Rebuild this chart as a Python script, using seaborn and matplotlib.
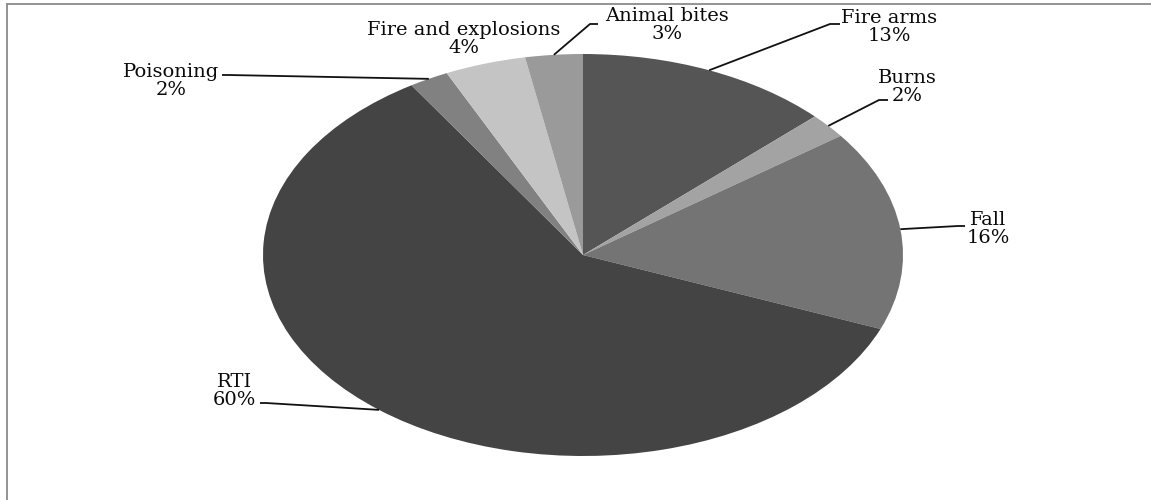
import matplotlib
matplotlib.use("Agg")
import matplotlib.pyplot as plt
import numpy as np
import seaborn as sns
from matplotlib.lines import Line2D

# data, clockwise from 12 o'clock
causes = ["Fire arms", "Burns", "Fall", "RTI", "Poisoning",
          "Fire and explosions", "Animal bites"]
shares = [12.9, 2.0, 16.1, 60.0, 2.0, 4.1, 2.9]
grays = ["#555555", "#a3a3a3", "#747474", "#444444", "#818181",
         "#c4c4c4", "#9a9a9a"]

W, H = 1151, 500
CX, CY, RX, RY = 583, 255, 320, 201   # pie centre / radii in pixels


def px(x, y):
    # pixel (from top-left) -> data units of a unit pie
    return (x - CX) / RX, (CY - y) / RY


# label centres and leader-line elbow/end points (pixels)
label_pos = [(889, 27), (907, 87), (988, 229), (234, 391), (171, 81),
             (464, 39), (667, 25)]
leader_pts = [
    [(830, 24), (840, 24)],
    [(879, 100), (888, 100)],
    [(958, 226), (965, 226)],
    [(266, 403), (260, 403)],
    [(228, 75), (222, 75)],
    None,
    [(590, 24), (598, 24)],
]

sns.set_theme(style="white")
plt.rcParams["font.family"] = ["DejaVu Serif"]

fig = plt.figure(figsize=(W / 100, H / 100), dpi=100)
ax = fig.add_axes([0, 0, 1, 1])

wedges, _ = ax.pie(shares, colors=grays, startangle=90, counterclock=False,
                   radius=1, wedgeprops=dict(linewidth=0))
ax.set_aspect("auto")
x0, y1 = px(0, 0)
x1, y0 = px(W, H)
ax.set_xlim(x0, x1)
ax.set_ylim(y0, y1)
ax.axis("off")

total = sum(shares)
for w, name, val, pos, pts in zip(wedges, causes, shares, label_pos, leader_pts):
    tx, ty = px(*pos)
    ax.text(tx, ty, f"{name}\n{round(val / total * 100):.0f}%",
            ha="center", va="center", fontsize=14, color="#0a0a0a",
            linespacing=0.95)
    if pts is None:
        continue
    mid = np.deg2rad((w.theta1 + w.theta2) / 2)
    xs = [np.cos(mid)] + [px(*p)[0] for p in pts]
    ys = [np.sin(mid)] + [px(*p)[1] for p in pts]
    ax.plot(xs, ys, color="#111111", lw=1.3, solid_capstyle="butt")

# frame remnants on top and left
fig.add_artist(Line2D([7 / W, 1], [1 - 4 / H, 1 - 4 / H],
                      transform=fig.transFigure, color="#8a8a8a", lw=1.3))
fig.add_artist(Line2D([7 / W, 7 / W], [0, 1 - 4 / H],
                      transform=fig.transFigure, color="#8a8a8a", lw=1.3))

fig.savefig("out.png", dpi=100, facecolor="white")
